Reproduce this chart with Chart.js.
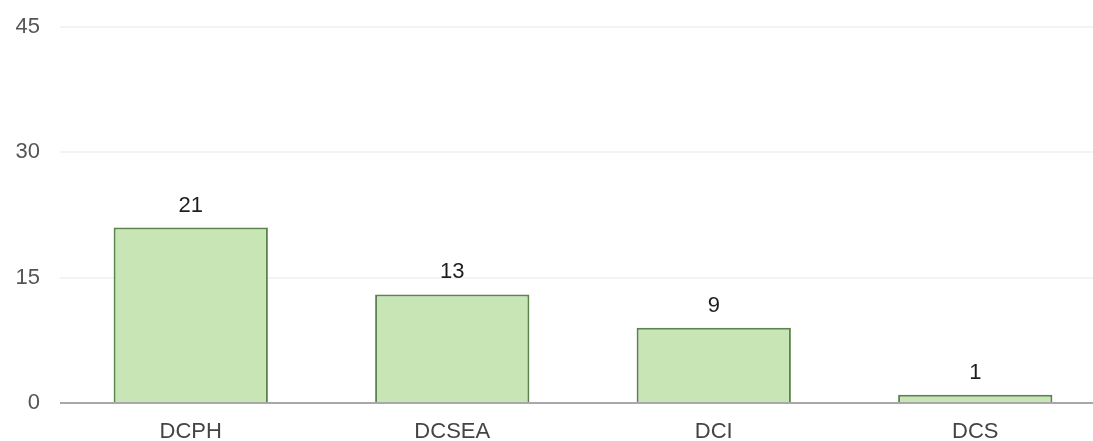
<!DOCTYPE html>
<html>
<head>
<meta charset="utf-8">
<script src="https://cdn.jsdelivr.net/npm/chart.js@4.4.1/dist/chart.umd.min.js"></script>
<style>
  html, body { margin: 0; padding: 0; background: #fff; overflow: hidden; }
  #wrap { width: 1106px; height: 441px; position: relative; }
</style>
</head>
<body>
<div id="wrap"><canvas id="grafico"></canvas></div>
<script>
const categorias = ['DCPH', 'DCSEA', 'DCI', 'DCS'];
const valores = [21, 13, 9, 1];
const ticksY = [0, 15, 30, 45];

const verde = '#c8e6b5';
const verdeBorde = '#5a8449';
const fuente = '"Liberation Sans", Arial, sans-serif';

// escribe el valor encima de cada barra
const etiquetas = {
  id: 'etiquetas',
  afterDatasetsDraw(chart) {
    const { ctx } = chart;
    const meta = chart.getDatasetMeta(0);
    ctx.save();
    ctx.font = '22px ' + fuente;
    ctx.fillStyle = '#1e1e1e';
    ctx.textAlign = 'center';
    ctx.textBaseline = 'alphabetic';
    meta.data.forEach((bar, i) => {
      ctx.fillText(String(valores[i]), bar.x, bar.y - 16);
    });
    ctx.restore();
  }
};

new Chart(document.getElementById('grafico'), {
  type: 'bar',
  data: {
    labels: categorias,
    datasets: [{
      data: valores,
      backgroundColor: verde,
      borderColor: verdeBorde,
      borderWidth: 2,
      categoryPercentage: 1,
      barPercentage: 0.59
    }]
  },
  options: {
    responsive: true,
    maintainAspectRatio: false,
    animation: false,
    layout: { padding: { top: 27, left: 0, right: 0, bottom: 0 } },
    plugins: {
      legend: { display: false },
      tooltip: { enabled: false }
    },
    scales: {
      x: {
        grid: { display: false },
        border: { display: false },
        ticks: {
          color: '#444',
          padding: 8,
          font: { family: fuente, size: 22 }
        },
        afterFit(scale) { scale.height = 38; }
      },
      y: {
        min: 0,
        max: 45,
        afterBuildTicks(scale) {
          scale.ticks = ticksY.map(v => ({ value: v }));
        },
        border: { display: false },
        grid: {
          drawTicks: false,
          lineWidth: 2,
          color: (c) => c.tick && c.tick.value === 0 ? '#a8a8a8' : '#f3f3f3'
        },
        ticks: {
          color: '#555',
          padding: 20,
          font: { family: fuente, size: 22 }
        },
        afterFit(scale) {
          scale.width = 60;
          scale.paddingTop = 0;
          scale.paddingBottom = 0;
        }
      }
    }
  },
  plugins: [etiquetas]
});
</script>
</body>
</html>
